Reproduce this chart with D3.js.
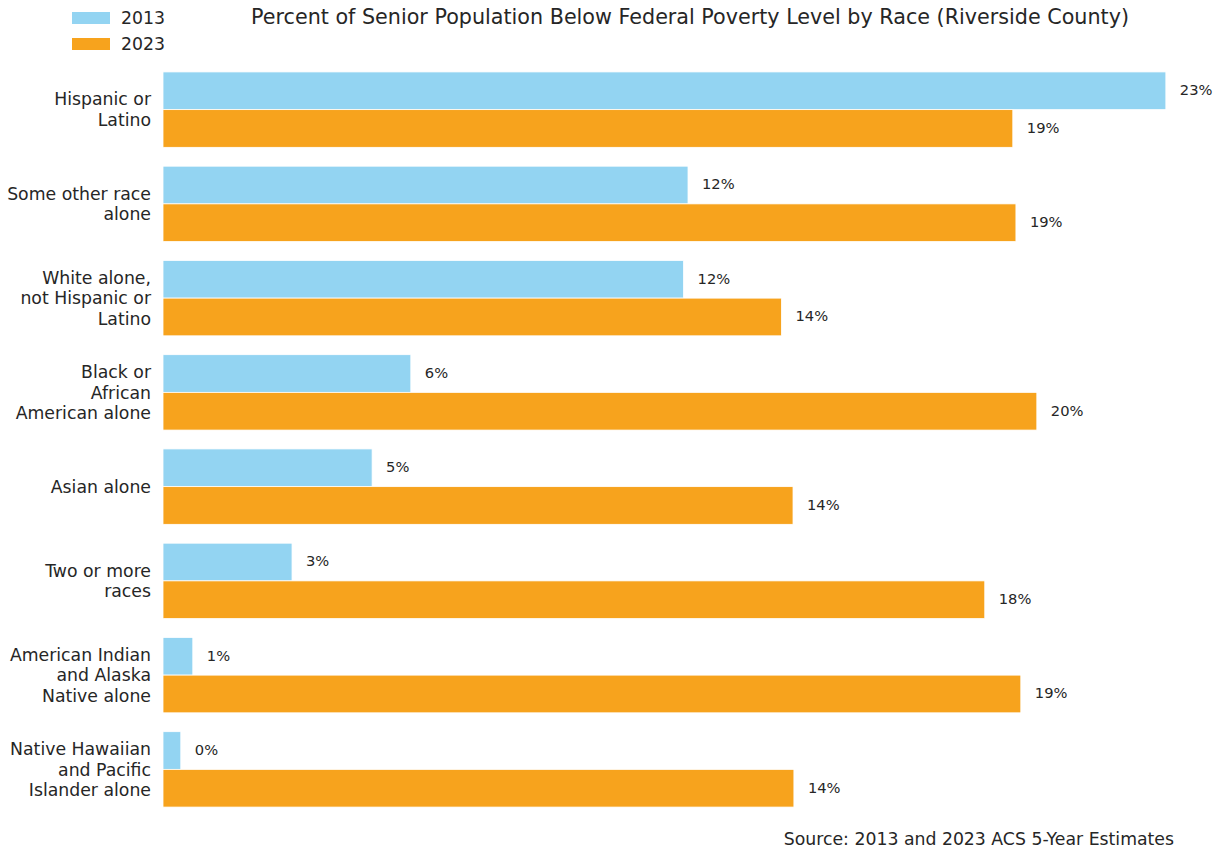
<!DOCTYPE html>
<html>
<head>
<meta charset="utf-8">
<script src="https://cdn.jsdelivr.net/npm/d3@7"></script>
<style>
  body { margin: 0; background: #fff; }
  svg text { font-family: "DejaVu Sans", sans-serif; fill: #262626; }
</style>
</head>
<body>
<div id="chart"></div>
<script>
// categories, top to bottom
const categories = [
  ["Hispanic or", "Latino"],
  ["Some other race", "alone"],
  ["White alone,", "not Hispanic or", "Latino"],
  ["Black or", "African", "American alone"],
  ["Asian alone"],
  ["Two or more", "races"],
  ["American Indian", "and Alaska", "Native alone"],
  ["Native Hawaiian", "and Pacific", "Islander alone"]
]
const years = ["2013", "2023"]
const values2013 = [22.54, 11.8, 11.7, 5.57, 4.7, 2.9, 0.67, 0.4]
const values2023 = [19.1, 19.17, 13.9, 19.64, 14.16, 18.47, 19.28, 14.18]
const colors = ["#93d4f2", "#f7a31d"]

const width = 1225
const height = 850

const svg = d3.select('#chart')
  .append('svg')
  .attr('width', width)
  .attr('height', height)

const rows = categories.map((c, i) => ({
  key: i,
  lines: c,
  vals: [values2013[i], values2023[i]]
}))

const y = d3.scaleBand()
  .domain(rows.map(d => d.key))
  .range([62.5, 816.5])
  .paddingInner(0.2)
  .paddingOuter(0.1)

const yInner = d3.scaleBand()
  .domain([0, 1])
  .range([0, y.bandwidth()])

const x = d3.scaleLinear()
  .domain([0, d3.max(values2013.concat(values2023)) * 1.05])
  .range([163, 1216])

// bars
const group = svg.selectAll('.row')
  .data(rows)
  .join('g')
  .attr('class', 'row')
  .attr('transform', d => `translate(0,${y(d.key)})`)

group.selectAll('rect')
  .data(d => d.vals.map((v, j) => ({ v, j })))
  .join('rect')
  .attr('x', x(0))
  .attr('y', d => yInner(d.j))
  .attr('width', d => x(d.v) - x(0))
  .attr('height', yInner.bandwidth())
  .attr('fill', d => colors[d.j])
  .attr('stroke', '#fff')
  .attr('stroke-width', 0.8)

// value labels
group.selectAll('text.val')
  .data(d => d.vals.map((v, j) => ({ v, j })))
  .join('text')
  .attr('class', 'val')
  .attr('x', d => x(d.v) + 14)
  .attr('y', d => yInner(d.j) + yInner.bandwidth() / 2 - 1)
  .attr('dy', '0.36em')
  .style('font-size', '14.7px')
  .text(d => Math.round(d.v) + '%')

// category labels
const lineH = 20.8
group.append('text')
  .attr('text-anchor', 'end')
  .style('font-size', '17.3px')
  .each(function (d) {
    const t = d3.select(this)
    const n = d.lines.length
    d.lines.forEach((line, k) => {
      t.append('tspan')
        .attr('x', 151)
        .attr('y', y.bandwidth() / 2 + (k - (n - 1) / 2) * lineH)
        .attr('dy', '0.36em')
        .text(line)
    })
  })

// title
svg.append('text')
  .attr('x', 690)
  .attr('y', 24)
  .attr('text-anchor', 'middle')
  .style('font-size', '20.7px')
  .text('Percent of Senior Population Below Federal Poverty Level by Race (Riverside County)')

// legend
const legend = svg.selectAll('.legend')
  .data(years)
  .join('g')
  .attr('class', 'legend')
  .attr('transform', (d, i) => `translate(72,${12 + i * 26})`)

legend.append('rect')
  .attr('width', 38)
  .attr('height', 12)
  .attr('fill', (d, i) => colors[i])

legend.append('text')
  .attr('x', 49)
  .attr('y', 6)
  .attr('dy', '0.36em')
  .style('font-size', '17.3px')
  .text(d => d)

// source
svg.append('text')
  .attr('x', 1174)
  .attr('y', 845)
  .attr('text-anchor', 'end')
  .style('font-size', '17.3px')
  .text('Source: 2013 and 2023 ACS 5-Year Estimates')
</script>
</body>
</html>
